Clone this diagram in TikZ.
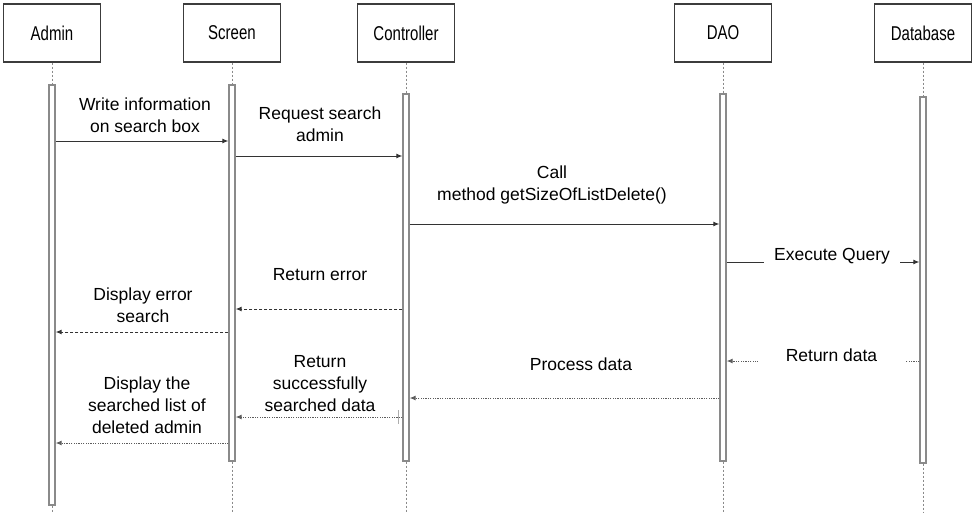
\documentclass[tikz,border=0pt]{standalone}
\usepackage{fontspec}
\setmainfont{Liberation Sans}
\usetikzlibrary{arrows.meta}
\definecolor{boxline}{HTML}{3C3C3C}
\definecolor{barline}{HTML}{8A8A8A}
\definecolor{msgline}{HTML}{333333}
\begin{document}
\begin{tikzpicture}[x=1pt,y=-1pt,
  actor/.style={draw=boxline,line width=1.3pt,fill=white,minimum width=97pt,minimum height=58pt,inner sep=0pt,font=\fontsize{20}{24}\selectfont},
  actbar/.style={draw=barline,line width=1.3pt,fill=white,minimum width=6pt,inner sep=0pt},
  life/.style={draw=barline,line width=1pt,dash pattern=on 2pt off 2pt},
  msg/.style={draw=msgline,line width=1pt,-{Latex[length=6pt,width=5pt]}},
  ret/.style={msg,dash pattern=on 3pt off 2pt},
  retdot/.style={msg,draw=msgline!80,dash pattern=on 1.2pt off 1.2pt},
  lbl/.style={align=center,font=\fontsize{17.5}{22}\selectfont,inner sep=0pt}
]
\useasboundingbox (0,0) rectangle (975,512);
\fill[white] (0,0) rectangle (975,512);

% actor boxes
\node[actor] (admin) at (52,33) {\scalebox{0.75}[1]{Admin}};
\node[actor] (screen) at (232,33) {\scalebox{0.75}[1]{Screen}};
\node[actor] (ctrl) at (406,33) {\scalebox{0.75}[1]{Controller}};
\node[actor] (dao) at (723,33) {\scalebox{0.75}[1]{DAO}};
\node[actor] (db) at (923,33) {\scalebox{0.75}[1]{Database}};

% activation bars
\node[actbar,minimum height=420pt] (barA) at (52,295) {};
\node[actbar,minimum height=376pt] (barS) at (232,273) {};
\node[actbar,minimum height=367pt] (barC) at (406,277.5) {};
\node[actbar,minimum height=367pt] (barD) at (723,277.5) {};
\node[actbar,minimum height=366pt] (barB) at (923,280) {};

% lifelines
\coordinate (endA) at (52,512);
\coordinate (endS) at (232,512);
\coordinate (endC) at (406,512);
\coordinate (endD) at (723,512);
\coordinate (endB) at (923,512);
\draw[life] (admin.south) -- (barA.north);
\draw[life] (screen.south) -- (barS.north);
\draw[life] (ctrl.south) -- (barC.north);
\draw[life] (dao.south) -- (barD.north);
\draw[life] (db.south) -- (barB.north);
\draw[life] (barA.south) -- (endA);
\draw[life] (barS.south) -- (endS);
\draw[life] (barC.south) -- (endC);
\draw[life] (barD.south) -- (endD);
\draw[life] (barB.south) -- (endB);

% messages
\draw[msg] (barA.east |- 0,141) -- (barS.west |- 0,141);
\node[lbl] (l1) at (145,115) {Write information\\on search box};

\draw[msg] (barS.east |- 0,156) -- (barC.west |- 0,156);
\node[lbl] (l2) at (320,124.5) {Request search\\admin};

\draw[msg] (barC.east |- 0,224) -- (barD.west |- 0,224);
\node[lbl] (l3) at (552,185) {Call\\method getSizeOfListDelete()};

\draw[msg] (barD.east |- 0,262) -- (barB.west |- 0,262);
\node[lbl,fill=white,inner xsep=10pt,inner ysep=2pt] (l4) at (832,256) {Execute Query};

\draw[ret] (barC.west |- 0,309) -- (barS.east |- 0,309);
\node[lbl] (l5) at (320,275) {Return error};

\draw[ret] (barS.west |- 0,332) -- (barA.east |- 0,332);
\node[lbl] (l6) at (143,305) {Display error\\search};

\draw[retdot] (barB.west |- 0,361) -- (barD.east |- 0,361);
\node[lbl,fill=white,inner xsep=28pt,inner ysep=2pt] (l7) at (831.5,355) {Return data};

\draw[retdot] (barD.west |- 0,398) -- (barC.east |- 0,398);
\node[lbl] (l8) at (581,364) {Process data};

\draw[retdot] (barC.west |- 0,417) -- (barS.east |- 0,417);
\node[lbl] (l9) at (320,384) {Return\\successfully\\searched data};
\coordinate (tickT) at (398,410);
\coordinate (tickB) at (398,424);
\draw[barline!70,line width=0.8pt] (tickT) -- (tickB);

\draw[retdot] (barS.west |- 0,443) -- (barA.east |- 0,443);
\node[lbl] (l10) at (147,405) {Display the\\searched list of\\deleted admin};
\end{tikzpicture}
\end{document}
